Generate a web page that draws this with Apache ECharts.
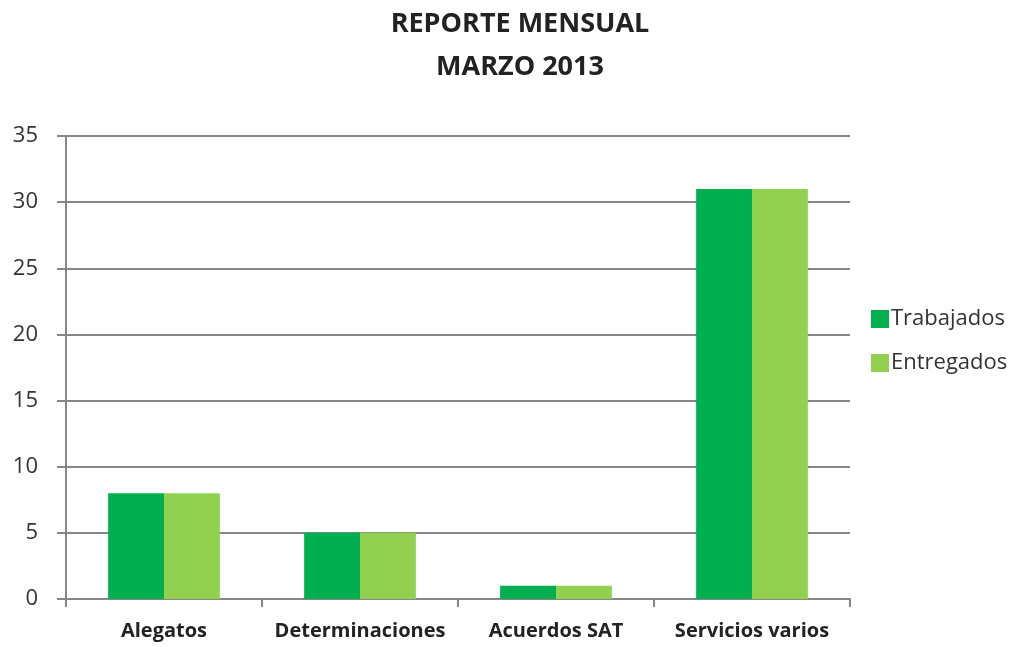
<!DOCTYPE html>
<html>
<head>
<meta charset="utf-8">
<script src="https://cdn.jsdelivr.net/npm/echarts@6/dist/echarts.min.js"></script>
<style>
  html, body { margin: 0; padding: 0; background: #fff; }
  #chart { width: 1027px; height: 647px; }
</style>
</head>
<body>
<div id="chart"></div>
<script>
const categories = ['Alegatos', 'Determinaciones', 'Acuerdos SAT', 'Servicios varios'];
const trabajados = [8, 5, 1, 31];
const entregados = [8, 5, 1, 31];
const yTicks = [0, 5, 10, 15, 20, 25, 30, 35];

const font = '"Open Sans", "Liberation Sans", sans-serif';
const myChart = echarts.init(document.getElementById('chart'));

// layout tuned to the reference picture
const option = {
  animation: false,
  textStyle: { fontFamily: font },
  title: {
    text: 'REPORTE MENSUAL\nMARZO 2013',
    left: 515,
    textAlign: 'center',
    top: -2,
    textStyle: {
      fontFamily: font,
      fontSize: 27,
      fontWeight: 'bold',
      color: '#222',
      lineHeight: 43
    }
  },
  legend: {
    orient: 'vertical',
    left: 866,
    top: 303,
    itemWidth: 18,
    itemHeight: 18,
    itemGap: 22,
    icon: 'rect',
    textStyle: { fontFamily: font, fontSize: 22, color: '#333', padding: [0, 0, 0, -3] },
    data: ['Trabajados', 'Entregados']
  },
  grid: {
    left: 66,
    right: 177,
    top: 136,
    bottom: 48,
    containLabel: false
  },
  xAxis: {
    type: 'category',
    data: categories,
    axisLine: { lineStyle: { color: '#868686', width: 2 } },
    axisTick: { show: true, interval: 0, length: 8, lineStyle: { color: '#868686', width: 2 } },
    axisLabel: {
      interval: 0,
      hideOverlap: false,
      fontFamily: font,
      fontSize: 20,
      fontWeight: 'bold',
      color: '#222',
      margin: 22
    }
  },
  yAxis: {
    type: 'value',
    min: yTicks[0],
    max: yTicks[yTicks.length - 1],
    interval: 5,
    axisLine: { show: true, lineStyle: { color: '#868686', width: 2 } },
    axisTick: { show: true, length: 9, lineStyle: { color: '#868686', width: 2 } },
    splitLine: { show: true, lineStyle: { color: '#868686', width: 2 } },
    axisLabel: {
      fontFamily: font,
      fontSize: 22,
      color: '#333',
      margin: 28
    }
  },
  series: [
    {
      name: 'Trabajados',
      type: 'bar',
      data: trabajados,
      barGap: '0%',
      barCategoryGap: '43%',
      itemStyle: { color: '#00B050' }
    },
    {
      name: 'Entregados',
      type: 'bar',
      data: entregados,
      itemStyle: { color: '#92D050' }
    }
  ]
};

myChart.setOption(option);
</script>
</body>
</html>
